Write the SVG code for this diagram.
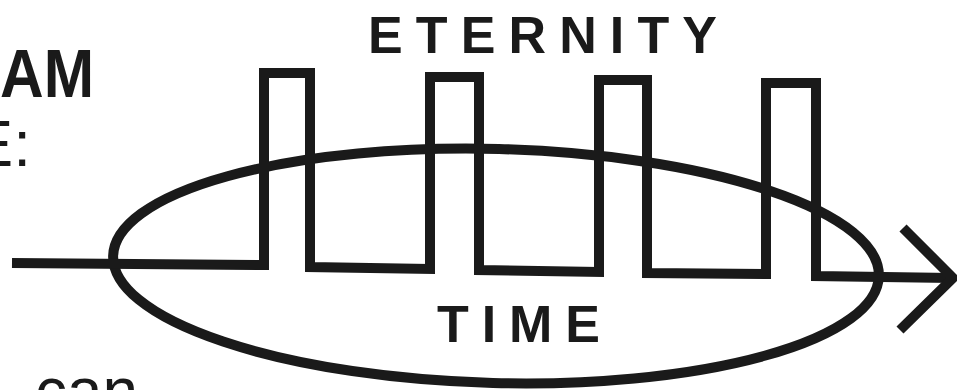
<svg xmlns="http://www.w3.org/2000/svg" width="957" height="390" viewBox="0 0 957 390">
<style>
.ln{fill:none;stroke:#1a1a1a;stroke-width:10;stroke-linejoin:miter;stroke-linecap:butt}
.lab{font-family:"Liberation Sans",Arial,sans-serif;fill:#1a1a1a}
</style>
<rect width="957" height="390" fill="#ffffff"/>
<g id="left-text">
<text class="lab" x="94" y="97" font-size="68" font-weight="bold" text-anchor="end" textLength="94" lengthAdjust="spacingAndGlyphs">AM</text>
<text class="lab" x="31" y="166" font-size="64" text-anchor="end">E:</text>
<text class="lab" x="35" y="413" font-size="64">can</text>
</g>
<g id="eternity">
<text class="lab" x="368" y="53" font-size="52" font-weight="bold" textLength="349" lengthAdjust="spacing">ETERNITY</text>
</g>
<g id="time">
<text class="lab" x="437" y="342" font-size="52" font-weight="bold" textLength="163" lengthAdjust="spacing">TIME</text>
</g>
<g id="time-ellipse">
<ellipse class="ln" cx="496" cy="266" rx="383" ry="117" transform="rotate(1.5 496 266)"/>
</g>
<g id="connectors">
<path id="eternity-pulses" class="ln" d="M12,263 L264,265 L264,73 L310,73 L310,267 L430,269 L430,77 L479,77 L479,270 L599,272 L599,80 L647,80 L647,273 L766,274 L766,83 L816,83 L816,276 L952,278"/>
<polyline id="arrowhead" class="ln" points="903,228 953,278 900,330"/>
</g>
</svg>
